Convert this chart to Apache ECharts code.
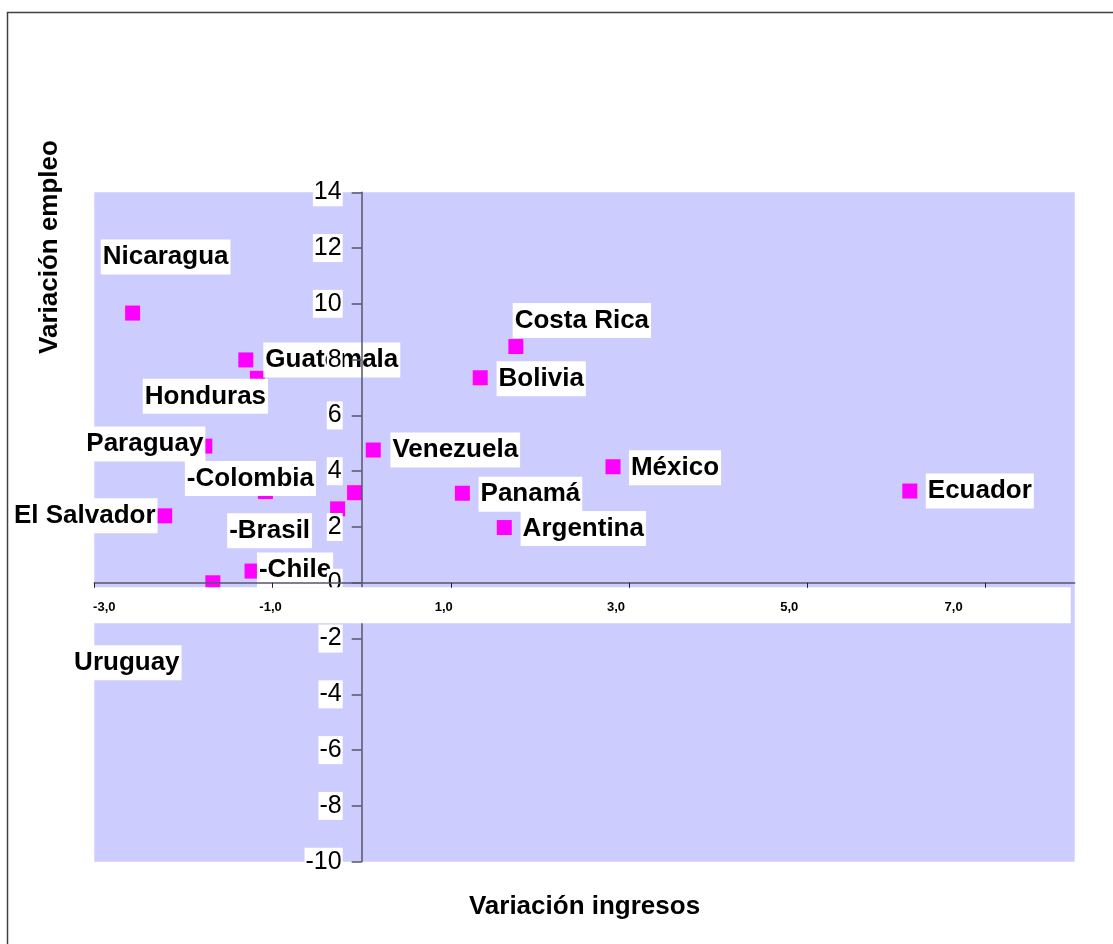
<!DOCTYPE html>
<html>
<head>
<meta charset="utf-8">
<script src="https://cdn.jsdelivr.net/npm/echarts@6/dist/echarts.min.js"></script>
<style>
  html, body { margin: 0; padding: 0; background: #ffffff; }
  #chart { width: 1113px; height: 944px; }
</style>
</head>
<body>
<div id="chart"></div>
<script>
// Country labels (an empty name means the point carries no label)
const countries = [
  'Nicaragua', 'Guatemala', 'Honduras', 'Paraguay', '-Colombia', 'El Salvador',
  '-Brasil', '', '-Chile', 'Uruguay', 'Costa Rica', 'Bolivia', 'Venezuela',
  'México', 'Panamá', 'Argentina', 'Ecuador'
];
// Variación ingresos (x)
const ingresos = [
  -2.57, -1.30, -1.17, -1.76, -1.08, -2.21,
  -0.27, -0.08, -1.23, -1.67, 1.73, 1.33, 0.13,
  2.82, 1.13, 1.60, 6.15
];
// Variación empleo (y)
const empleo = [
  9.67, 7.99, 7.33, 4.90, 3.27, 2.40,
  2.65, 3.23, 0.42, 0.00, 8.47, 7.35, 4.76,
  4.16, 3.21, 1.98, 3.29
];
// Axis ticks
const xTickValues = [-3, -1, 1, 3, 5, 7];
const xMin = -3, xMax = 8;
const yMin = -10, yMax = 14, yStep = 2;

// Label placement: offset of each label's centre from its point, in pixels
const labelOffsets = {
  'Nicaragua': [33, -56], 'Guatemala': [86, 0], 'Honduras': [-52, 18],
  'Paraguay': [-60, -2], '-Colombia': [-15, -13], 'El Salvador': [-80, 0],
  '-Brasil': [-68, 22], '-Chile': [43, -1], 'Uruguay': [-86, 80],
  'Costa Rica': [66, -26], 'Bolivia': [61, 1], 'Venezuela': [82, 0],
  'México': [62, 1], 'Panamá': [68, 1], 'Argentina': [79, 1], 'Ecuador': [70, 0]
};
// Horizontal nudge of each x tick label relative to its tick, in pixels
const xLabelShift = [10, -2, -7, -13, -18, -32];

const FONT = '"Liberation Sans", Arial, Helvetica, sans-serif';
const AXIS_COLOR = '#56566a';

const xRich = {};
xLabelShift.forEach((d, i) => {
  xRich['s' + i] = {
    fontFamily: FONT, fontSize: 13, fontWeight: 'bold', color: '#000',
    padding: d >= 0 ? [0, 0, 0, 2 * d] : [0, -2 * d, 0, 0]
  };
});

const chart = echarts.init(document.getElementById('chart'), null, { renderer: 'canvas' });

const option = {
  animation: false,
  backgroundColor: '#ffffff',
  grid: {
    left: 94.3, right: 38.3, top: 192.3, bottom: 82.3,
    show: true, backgroundColor: '#CCCCFF', borderWidth: 0
  },
  xAxis: {
    type: 'value', min: xMin, max: xMax, interval: 1, z: 5,
    axisLine: { onZero: false, lineStyle: { color: AXIS_COLOR, width: 1.5 } },
    axisTick: { show: true, length: 5, customValues: xTickValues,
                lineStyle: { color: '#222', width: 1 } },
    axisLabel: {
      customValues: xTickValues, margin: 18,
      formatter: (v) => {
        const i = xTickValues.indexOf(v);
        const txt = v.toFixed(1).replace('.', ',');
        return i >= 0 ? '{s' + i + '|' + txt + '}' : txt;
      },
      rich: xRich,
      fontFamily: FONT, fontSize: 13, fontWeight: 'bold', color: '#000'
    },
    splitLine: { show: false }
  },
  yAxis: {
    type: 'value', min: yMin, max: yMax, interval: yStep, z: 3,
    axisLine: { show: true, onZero: false, lineStyle: { color: AXIS_COLOR, width: 1.5 } },
    axisTick: { show: true, length: 10, lineStyle: { color: AXIS_COLOR, width: 1.5 } },
    axisLabel: {
      margin: 19, fontFamily: FONT, fontSize: 25, color: '#000',
      backgroundColor: '#ffffff', padding: [2, 1, 1, 1]
    },
    splitLine: { show: false }
  },
  series: [{
    type: 'scatter',
    symbol: 'rect',
    symbolSize: 15,
    itemStyle: { color: '#FF00FF', opacity: 1 },
    z: 2,
    label: {
      show: true, position: 'inside', formatter: '{b}',
      fontFamily: FONT, fontSize: 26, fontWeight: 'bold', color: '#000',
      textBorderWidth: 0, textBorderColor: 'transparent',
      backgroundColor: '#ffffff', padding: [2, 2, 3, 2], lineHeight: 30
    },
    data: countries.map((name, i) => ({
      name: name,
      value: [ingresos[i], empleo[i]],
      label: { show: name !== '', offset: labelOffsets[name] || [0, 0] }
    }))
  }]
};

chart.setOption(option);

// Move both axes onto the origin (x = 0 and y = 0), labels included.
const px = (x, y) => chart.convertToPixel({ gridIndex: 0 }, [x, y]);
const origin = px(0, 0);
const left = px(xMin, 0)[0];
const right = px(xMax, 0)[0];
const bottom = px(0, yMin)[1];

chart.setOption({
  xAxis: { offset: -(bottom - origin[1]) },
  yAxis: { offset: -(origin[0] - left) },
  graphic: [
    // white band behind the x tick labels
    {
      type: 'rect', z: 4, silent: true,
      shape: { x: left - 2, y: origin[1] + 4.5, width: (right - 4) - (left - 2), height: 36 },
      style: { fill: '#ffffff' }
    },
    // outer frame
    {
      type: 'rect', z: 10, silent: true,
      shape: { x: 7.5, y: 12.5, width: 1400, height: 1200 },
      style: { fill: 'none', stroke: '#404040', lineWidth: 1.5 }
    },
    {
      type: 'text', z: 10, silent: true,
      x: (left + right) / 2, y: 907,
      style: {
        text: 'Variación ingresos', font: 'bold 26px ' + FONT, fill: '#000',
        align: 'center', verticalAlign: 'middle'
      }
    },
    {
      type: 'text', z: 10, silent: true,
      x: 50, y: 247, rotation: Math.PI / 2,
      style: {
        text: 'Variación empleo', font: 'bold 26px ' + FONT, fill: '#000',
        align: 'center', verticalAlign: 'middle'
      }
    }
  ]
});
</script>
</body>
</html>
